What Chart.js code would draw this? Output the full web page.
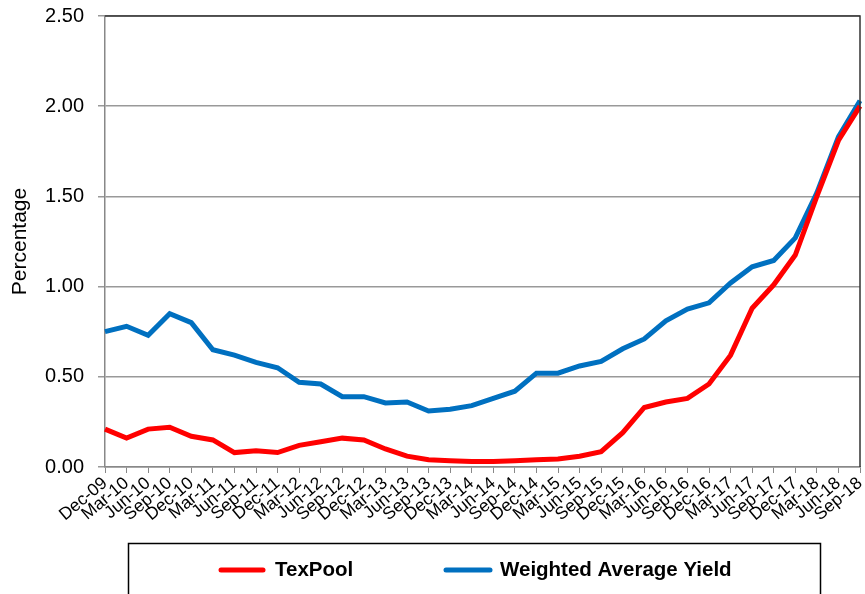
<!DOCTYPE html>
<html>
<head>
<meta charset="utf-8">
<script src="https://cdn.jsdelivr.net/npm/chart.js@4.4.0/dist/chart.umd.min.js"></script>
<style>
  html, body { margin: 0; padding: 0; background: #fff; }
  #wrap { width: 865px; height: 594px; position: relative; }
</style>
</head>
<body>
<div id="wrap"><canvas id="myChart" width="865" height="594"></canvas></div>
<script>
var quarters = ['Dec-09', 'Mar-10', 'Jun-10', 'Sep-10', 'Dec-10', 'Mar-11', 'Jun-11', 'Sep-11', 'Dec-11',
    'Mar-12', 'Jun-12', 'Sep-12', 'Dec-12', 'Mar-13', 'Jun-13', 'Sep-13', 'Dec-13', 'Mar-14', 'Jun-14',
    'Sep-14', 'Dec-14', 'Mar-15', 'Jun-15', 'Sep-15', 'Dec-15', 'Mar-16', 'Jun-16', 'Sep-16', 'Dec-16',
    'Mar-17', 'Jun-17', 'Sep-17', 'Dec-17', 'Mar-18', 'Jun-18', 'Sep-18'];

var texPool = [0.21, 0.16, 0.21, 0.22, 0.17, 0.15, 0.08, 0.09, 0.08, 0.12, 0.14, 0.16, 0.15, 0.10, 0.06,
    0.04, 0.035, 0.03, 0.03, 0.035, 0.04, 0.045, 0.06, 0.085, 0.19, 0.33, 0.36, 0.38, 0.46, 0.62, 0.88,
    1.01, 1.175, 1.50, 1.81, 2.00];

var weightedYield = [0.75, 0.78, 0.73, 0.85, 0.80, 0.65, 0.62, 0.58, 0.55, 0.47, 0.46, 0.39, 0.39, 0.355,
    0.36, 0.31, 0.32, 0.34, 0.38, 0.42, 0.52, 0.52, 0.56, 0.585, 0.655, 0.71, 0.81, 0.875, 0.91, 1.02,
    1.11, 1.145, 1.27, 1.52, 1.83, 2.03];

var yTicks = [0, 0.5, 1, 1.5, 2, 2.5];

var legendItems = [
    { label: 'TexPool', color: '#ff0000' },
    { label: 'Weighted Average Yield', color: '#0070c0' }
];

// frame on top/right of plot + boxed legend underneath
var framePlugin = {
    id: 'frame',
    afterDraw: function (chart) {
        var c = chart.ctx, a = chart.chartArea;
        c.save();
        c.strokeStyle = '#333';
        c.lineWidth = 1.5;
        c.beginPath();
        c.moveTo(a.left, a.top);
        c.lineTo(a.right, a.top);
        c.lineTo(a.right, a.bottom);
        c.stroke();

        c.strokeStyle = '#000';
        c.lineWidth = 1.5;
        c.strokeRect(128.5, 543.5, 692, 60);

        var xs = [[221, 263, 275], [446, 490, 500]];
        c.font = 'bold 20.5px Arial, "Liberation Sans", sans-serif';
        c.textBaseline = 'middle';
        c.fillStyle = '#000';
        legendItems.forEach(function (it, i) {
            c.strokeStyle = it.color;
            c.lineWidth = 5;
            c.lineCap = 'round';
            c.beginPath();
            c.moveTo(xs[i][0], 570);
            c.lineTo(xs[i][1], 570);
            c.stroke();
            c.fillText(it.label, xs[i][2], 570);
        });
        c.restore();
    }
};

var ctx = document.getElementById('myChart').getContext('2d');

var chart = new Chart(ctx, {
    type: 'line',
    data: {
        labels: quarters,
        datasets: [{
            label: 'TexPool',
            data: texPool,
            borderColor: '#ff0000',
            borderWidth: 5,
            pointRadius: 0,
            tension: 0
        },
        {
            label: 'Weighted Average Yield',
            data: weightedYield,
            borderColor: '#0070c0',
            borderWidth: 5,
            pointRadius: 0,
            tension: 0
        }]
    },
    options: {
        responsive: false,
        animation: false,
        layout: { padding: { top: 16, right: 0, left: 0, bottom: 0 } },
        plugins: {
            legend: { display: false },
            tooltip: { enabled: false }
        },
        scales: {
            x: {
                offset: false,
                grid: { drawOnChartArea: false, drawTicks: true, tickLength: 6, color: '#888' },
                border: { color: '#888', width: 1.5 },
                ticks: {
                    autoSkip: false,
                    maxRotation: 40,
                    minRotation: 40,
                    padding: 0,
                    color: '#000',
                    font: { family: 'Arial, "Liberation Sans", sans-serif', size: 17.5 }
                },
                afterFit: function (s) { s.height = 127; s.paddingRight = 5; }
            },
            y: {
                min: 0,
                max: 2.5,
                afterBuildTicks: function (s) {
                    s.ticks = yTicks.map(function (v) { return { value: v }; });
                },
                grid: { color: '#999', lineWidth: 1.5, tickLength: 7 },
                border: { color: '#888', width: 1.5 },
                ticks: {
                    padding: 14,
                    color: '#000',
                    font: { family: 'Arial, "Liberation Sans", sans-serif', size: 20 },
                    callback: function (v) { return v.toFixed(2); }
                },
                title: {
                    display: true,
                    text: 'Percentage',
                    color: '#000',
                    padding: { top: 8, bottom: 0 },
                    font: { family: 'Arial, "Liberation Sans", sans-serif', size: 21 }
                },
                afterFit: function (s) { s.width = 105; s.paddingTop = 10; s.paddingBottom = 0; }
            }
        }
    },
    plugins: [framePlugin]
});
</script>
</body>
</html>
